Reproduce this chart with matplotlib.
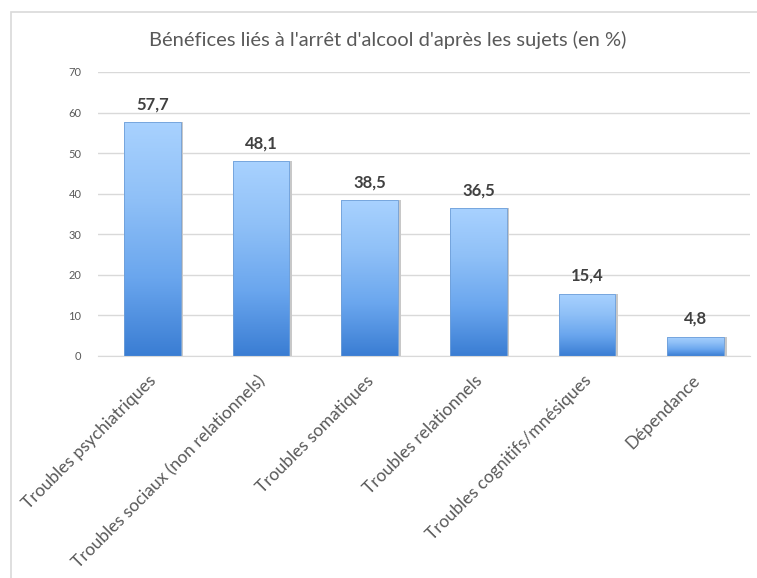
import numpy as np
import matplotlib
matplotlib.use("Agg")
import matplotlib.pyplot as plt
import matplotlib.transforms as mtransforms
from matplotlib.patches import Rectangle
from matplotlib.colors import LinearSegmentedColormap

plt.rcParams['font.family'] = ['Lato', 'DejaVu Sans']

categories = ["Troubles psychiatriques", "Troubles sociaux (non relationnels)",
              "Troubles somatiques", "Troubles relationnels",
              "Troubles cognitifs/mnésiques", "Dépendance"]
values = [57.7, 48.1, 38.5, 36.5, 15.4, 4.8]
labels = ["57,7", "48,1", "38,5", "36,5", "15,4", "4,8"]
yticks = [0, 10, 20, 30, 40, 50, 60, 70]

fig = plt.figure(figsize=(7.57, 5.78), dpi=100)
fig.patch.set_facecolor("white")

# outer chart border (cut off at right and bottom like the screenshot)
fig.patches.append(Rectangle((11 / 757, -0.1), 1.2, (578 - 12) / 578 + 0.1,
                             transform=fig.transFigure, fill=False,
                             edgecolor="#d9d9d9", linewidth=1.2))

ax = fig.add_axes([98 / 757, (578 - 356) / 578, 652 / 757, 284 / 578])
x = np.arange(len(categories))
grad = LinearSegmentedColormap.from_list("g", ["#3a7dd3", "#6aa6ee", "#8fc0f7", "#a9d2ff"])

# light shadow behind bars
ax.bar(x + 0.025, values, width=0.52, color="#c8c8c8", zorder=2)
bars = ax.bar(x, values, width=0.52, color="none", edgecolor="#6f9fd8",
              linewidth=0.6, zorder=3)
img = np.linspace(0, 1, 256).reshape(-1, 1)
for b in bars:
    x0, y0 = b.get_x(), b.get_y()
    w, h = b.get_width(), b.get_height()
    im = ax.imshow(img, cmap=grad, origin="lower", aspect="auto",
                   extent=[x0, x0 + w, y0, y0 + h], zorder=2.5)
    im.set_clip_path(b)

for xi, v, lab in zip(x, values, labels):
    ax.annotate(lab, (xi, v), xytext=(0, 7), textcoords="offset points",
                ha="center", va="bottom", fontsize=12, fontweight="bold",
                color="#404040")

ax.set_xlim(-0.5, len(categories) - 0.5)
ax.set_ylim(0, 70)
ax.set_yticks(yticks)
ax.set_yticklabels([str(t) for t in yticks])
ax.grid(axis="y", color="#d9d9d9", linewidth=1, zorder=0)
ax.set_axisbelow(True)
for s in ["top", "right", "left"]:
    ax.spines[s].set_visible(False)
ax.spines["bottom"].set_color("#d9d9d9")
ax.tick_params(axis="y", length=0, pad=12, labelsize=8, labelcolor="#595959")
ax.tick_params(axis="x", length=0, pad=9, labelsize=12.5, labelcolor="#595959")
ax.set_xticks(x)
ax.set_xticklabels(categories, rotation=45, ha="right", rotation_mode="anchor")
shift = mtransforms.ScaledTranslation(-4 / 100, -4 / 100, fig.dpi_scale_trans)
for t in ax.get_xticklabels():
    t.set_transform(t.get_transform() + shift)

fig.text(388 / 757, 1 - 40 / 578, "Bénéfices liés à l'arrêt d'alcool d'après les sujets (en %)",
         ha="center", va="center", fontsize=14.5, color="#595959")

fig.savefig("out.png", dpi=100, facecolor="white")
